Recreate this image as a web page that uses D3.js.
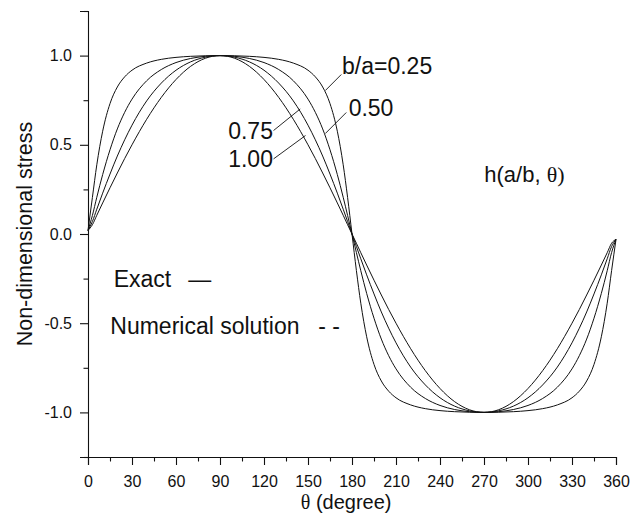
<!DOCTYPE html>
<html lang="en">
<head>
    <meta charset="UTF-8">
    <title>Non-dimensional stress</title>
    <script src="https://cdnjs.cloudflare.com/ajax/libs/d3/7.8.5/d3.min.js"></script>
    <style>
        body { margin: 0; background: #fff; }
        text { font-family: "Liberation Sans", Arial, sans-serif; fill: #111; }
        .axis path, .axis line { stroke: #111; stroke-width: 1.1; }
        .curve { fill: none; stroke: #111; stroke-width: 1; }
        .leader { stroke: #111; stroke-width: 0.9; }
    </style>
</head>
<body>
<div id="chart"></div>
<script>
    // theta (degree)
    var thetas = [0,3,6,10,15,20,25,30,40,50,60,70,80,90,100,110,120,130,140,150,155,160,165,170,174,177,180,
        183,186,190,195,200,205,210,220,230,240,250,260,270,280,290,300,310,320,330,335,340,345,350,354,357,360];

    var ba025 = [0.02,0.205,0.388,0.576,0.731,0.824,0.881,0.918,0.958,0.979,0.990,0.996,0.999,1.0,0.999,0.996,0.990,0.979,0.958,0.918,0.881,0.824,0.731,0.576,0.388,0.205,0.0,
        -0.205,-0.388,-0.576,-0.731,-0.824,-0.881,-0.918,-0.958,-0.979,-0.990,-0.996,-0.999,-1.0,-0.999,-0.996,-0.990,-0.979,-0.958,-0.918,-0.881,-0.824,-0.731,-0.576,-0.388,-0.205,-0.03];
    var ba050 = [0.02,0.104,0.206,0.333,0.472,0.589,0.682,0.756,0.859,0.922,0.961,0.984,0.996,1.0,0.996,0.984,0.961,0.922,0.859,0.756,0.682,0.589,0.472,0.333,0.206,0.104,0.0,
        -0.104,-0.206,-0.333,-0.472,-0.589,-0.682,-0.756,-0.859,-0.922,-0.961,-0.984,-0.996,-1.0,-0.996,-0.984,-0.961,-0.922,-0.859,-0.756,-0.682,-0.589,-0.472,-0.333,-0.206,-0.104,-0.03];
    var ba075 = [0.02,0.070,0.139,0.229,0.336,0.437,0.528,0.610,0.746,0.846,0.918,0.965,0.991,1.0,0.991,0.965,0.918,0.846,0.746,0.610,0.528,0.437,0.336,0.229,0.139,0.070,0.0,
        -0.070,-0.139,-0.229,-0.336,-0.437,-0.528,-0.610,-0.746,-0.846,-0.918,-0.965,-0.991,-1.0,-0.991,-0.965,-0.918,-0.846,-0.746,-0.610,-0.528,-0.437,-0.336,-0.229,-0.139,-0.070,-0.03];
    var ba100 = [0.02,0.052,0.105,0.174,0.259,0.342,0.423,0.500,0.643,0.766,0.866,0.940,0.985,1.0,0.985,0.940,0.866,0.766,0.643,0.500,0.423,0.342,0.259,0.174,0.105,0.052,0.0,
        -0.052,-0.105,-0.174,-0.259,-0.342,-0.423,-0.500,-0.643,-0.766,-0.866,-0.940,-0.985,-1.0,-0.985,-0.940,-0.866,-0.766,-0.643,-0.500,-0.423,-0.342,-0.259,-0.174,-0.105,-0.052,-0.03];

    var series = [ba025, ba050, ba075, ba100];

    var xTicks = d3.range(0, 361, 15);      // labelled every 30
    var yTicks = d3.range(-1.25, 1.26, 0.25); // labelled every 0.5

    // curve labels, in data units: text anchor + leader line
    var labels = [
        {text: "b/a=0.25", tx: 173.2, ty: 0.897, anchor: "start", x1: 161.8, y1: 0.804, x2: 172.7, y2: 0.894},
        {text: "0.50",     tx: 177.7, ty: 0.664, anchor: "start", x1: 161.8, y1: 0.563, x2: 176.1, y2: 0.681},
        {text: "0.75",     tx: 126.1, ty: 0.533, anchor: "end",   x1: 126.5, y1: 0.580, x2: 144.7, y2: 0.701},
        {text: "1.00",     tx: 126.1, ty: 0.374, anchor: "end",   x1: 126.5, y1: 0.421, x2: 148.3, y2: 0.552}
    ];

    var margin = {top: 11, right: 26, bottom: 60, left: 88},
        width = 642 - margin.left - margin.right,
        height = 517 - margin.top - margin.bottom;

    var x = d3.scaleLinear().domain([0, 360]).range([0, width]);
    var y = d3.scaleLinear().domain([-1.25, 1.25]).range([height, 0]);

    var svg = d3.select("#chart")
        .append("svg")
        .attr("width", 642)
        .attr("height", 517)
        .append("g")
        .attr("transform", "translate(" + margin.left + "," + margin.top + ")");

    function isMajorX(d) { return d % 30 === 0; }
    function isMajorY(d) { return Math.abs(Math.round(d * 2) - d * 2) < 1e-6; }

    var xAxis = d3.axisBottom(x)
        .tickValues(xTicks)
        .tickFormat(function (d) { return isMajorX(d) ? d : ""; })
        .tickSizeOuter(0)
        .tickSize(8)
        .tickPadding(11);

    var yAxis = d3.axisLeft(y)
        .tickValues(yTicks)
        .tickFormat(function (d) { return isMajorY(d) ? d.toFixed(1).replace("-0.0", "0.0") : ""; })
        .tickSizeOuter(0)
        .tickSize(8)
        .tickPadding(8);

    var gx = svg.append("g")
        .attr("class", "x axis")
        .attr("transform", "translate(0," + height + ")")
        .call(xAxis);
    gx.selectAll(".tick line").attr("y2", function (d) { return isMajorX(d) ? 8 : 4.5; });
    gx.selectAll(".tick text").style("font-size", "16px");

    var gy = svg.append("g")
        .attr("class", "y axis")
        .call(yAxis);
    gy.selectAll(".tick line").attr("x2", function (d) { return isMajorY(d) ? -8 : -4.5; });
    gy.selectAll(".tick text").style("font-size", "16px");

    var line = d3.line()
        .x(function (d, i) { return x(thetas[i]); })
        .y(function (d) { return y(d); })
        .curve(d3.curveMonotoneX);

    svg.selectAll("path.curve")
        .data(series)
        .enter().append("path")
        .attr("class", "curve")
        .attr("d", line);

    // leaders and curve labels
    svg.selectAll("line.leader")
        .data(labels)
        .enter().append("line")
        .attr("class", "leader")
        .attr("x1", function (d) { return x(d.x1); })
        .attr("y1", function (d) { return y(d.y1); })
        .attr("x2", function (d) { return x(d.x2); })
        .attr("y2", function (d) { return y(d.y2); });

    svg.selectAll("text.clabel")
        .data(labels)
        .enter().append("text")
        .attr("class", "clabel")
        .attr("x", function (d) { return x(d.tx); })
        .attr("y", function (d) { return y(d.ty); })
        .attr("text-anchor", function (d) { return d.anchor; })
        .style("font-size", "23px")
        .text(function (d) { return d.text; });

    // function label
    var h = svg.append("text")
        .attr("x", x(270.2))
        .attr("y", y(0.290))
        .style("font-size", "22px");
    h.append("tspan").text("h(a/b, ");
    h.append("tspan").style("font-family", "'Liberation Serif', 'Times New Roman', serif").text("\u03b8)");

    // legend
    svg.append("text")
        .attr("x", x(17.5))
        .attr("y", y(-0.298))
        .style("font-size", "23px")
        .text("Exact");
    svg.append("text")
        .attr("x", x(68.4))
        .attr("y", y(-0.298))
        .style("font-size", "23px")
        .text("\u2014");
    svg.append("text")
        .attr("x", x(15.2))
        .attr("y", y(-0.558))
        .style("font-size", "23px")
        .text("Numerical solution");
    svg.append("text")
        .attr("x", x(157))
        .attr("y", y(-0.558))
        .style("font-size", "23px")
        .text("- -");

    // axis titles
    var xt = svg.append("text")
        .attr("x", x(176))
        .attr("y", height + 52)
        .attr("text-anchor", "middle")
        .style("font-size", "20px");
    xt.append("tspan").style("font-family", "'Liberation Serif', 'Times New Roman', serif").text("\u03b8");
    xt.append("tspan").text(" (degree)");

    svg.append("text")
        .attr("transform", "translate(" + (31.5 - margin.left) + "," + y(0) + ") rotate(-90)")
        .attr("text-anchor", "middle")
        .style("font-size", "21.5px")
        .text("Non-dimensional stress");
</script>
</body>
</html>
